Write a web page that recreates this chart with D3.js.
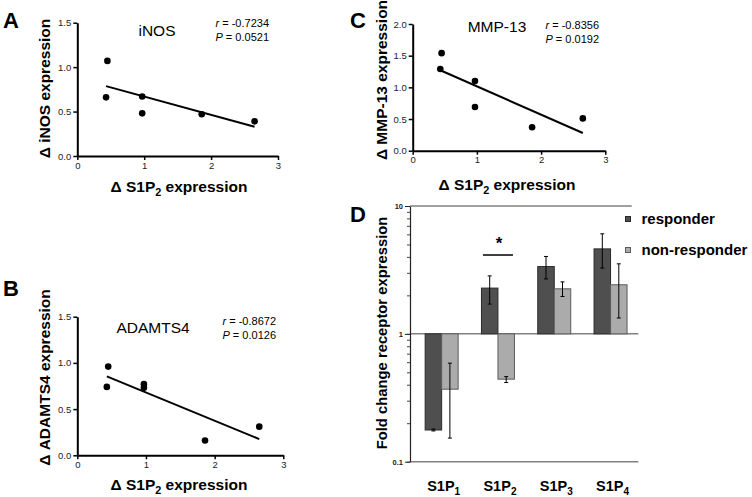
<!DOCTYPE html>
<html>
<head>
<meta charset="utf-8">
<script src="https://cdn.jsdelivr.net/npm/d3@7"></script>
<style>
  body { margin: 0; background: #fff; }
  svg { display: block; font-family: "Liberation Sans", Arial, sans-serif; }
</style>
</head>
<body>
<svg id="fig" width="752" height="497"></svg>
<script>
// change in S1P2 expression, one value per patient (same x for A, B, C)
const s1p2Delta = [0.43, 0.45, 0.97, 0.97, 1.86, 2.65]
const inosDelta = [0.66, 1.07, 0.67, 0.48, 0.47, 0.39]
const adamts4Delta = [0.74, 0.96, 0.77, 0.73, 0.16, 0.31]
const mmp13Delta = [1.29, 1.54, 1.10, 0.69, 0.37, 0.51]

const panelNames = ['iNOS', 'ADAMTS4', 'MMP-13']
const rValues = ['-0.7234', '-0.8672', '-0.8356']
const pValues = ['0.0521', '0.0126', '0.0192']

// panel D: fold change of S1P receptors
const receptors = ['1', '2', '3', '4']
const responder = [0.177, 2.28, 3.36, 4.62]
const responderLo = [0.174, 1.71, 2.69, 3.27]
const responderHi = [0.180, 2.84, 4.03, 6.06]
const nonResponder = [0.369, 0.442, 2.25, 2.42]
const nonResponderLo = [0.153, 0.416, 1.96, 1.33]
const nonResponderHi = [0.59, 0.463, 2.55, 3.53]
const seriesNames = ['responder', 'non-responder']

const svg = d3.select('#fig')

function fit(xs, ys) {
    const mx = d3.mean(xs), my = d3.mean(ys)
    let sxy = 0, sxx = 0
    xs.forEach((v, i) => {
        sxy += (v - mx) * (ys[i] - my)
        sxx += (v - mx) * (v - mx)
    })
    const slope = sxy / sxx
    return {slope: slope, icept: my - slope * mx}
}

function styleAxis(g) {
    g.select('.domain').attr('stroke', '#000').attr('stroke-width', 2)
    g.selectAll('.tick line').attr('stroke', '#000').attr('stroke-width', 1.5)
    g.selectAll('.tick text').attr('font-size', 9.5).attr('fill', '#222')
        .attr('font-family', '"Liberation Sans", Arial, sans-serif')
}

function s1p2Label(g, x, y, size) {
    const t = g.append('text')
        .attr('x', x).attr('y', y)
        .attr('text-anchor', 'middle')
        .attr('font-size', size).attr('font-weight', 'bold')
    t.append('tspan').text('\u0394 S1P')
    t.append('tspan').attr('font-size', size * 0.7).attr('dy', 4).text('2')
    t.append('tspan').attr('dy', -4).text(' expression')
}

function scatterPanel(o) {
    const g = svg.append('g')
    const x = d3.scaleLinear().domain([0, 3]).range([o.left, o.right])
    const y = d3.scaleLinear().domain([0, o.yMax]).range([o.bottom, o.top])

    g.append('g').attr('transform', `translate(0,${o.bottom})`)
        .call(d3.axisBottom(x).tickValues([0, 1, 2, 3]).tickFormat(d3.format('d'))
            .tickSize(4).tickSizeOuter(0).tickPadding(2))
        .call(styleAxis)
    g.append('g').attr('transform', `translate(${o.left},0)`)
        .call(d3.axisLeft(y).tickValues(d3.range(0, o.yMax + 0.01, 0.5)).tickFormat(d3.format('.1f'))
            .tickSize(4).tickSizeOuter(0).tickPadding(2))
        .call(styleAxis)

    const lf = fit(s1p2Delta, o.ys)
    const xe = d3.extent(s1p2Delta)
    g.append('line')
        .attr('x1', x(xe[0])).attr('y1', y(lf.slope * xe[0] + lf.icept))
        .attr('x2', x(xe[1])).attr('y2', y(lf.slope * xe[1] + lf.icept))
        .attr('stroke', '#000').attr('stroke-width', 2)

    g.selectAll('circle').data(o.ys).join('circle')
        .attr('cx', (d, i) => x(s1p2Delta[i]))
        .attr('cy', d => y(d))
        .attr('r', 3.3).attr('fill', '#000')

    g.append('text').attr('x', o.nameX).attr('y', o.nameY)
        .attr('text-anchor', 'middle').attr('font-size', 15.5).text(o.name)

    const st = g.append('text').attr('x', o.statX).attr('y', o.statY)
        .attr('text-anchor', 'end').attr('font-size', 11)
    st.append('tspan').attr('font-style', 'italic').text('r')
    st.append('tspan').text(' = ' + o.r)
    const sp = g.append('text').attr('x', o.statX).attr('y', o.statY + 14)
        .attr('text-anchor', 'end').attr('font-size', 11)
    sp.append('tspan').attr('font-style', 'italic').text('P')
    sp.append('tspan').text(' = ' + o.p)

    g.append('text')
        .attr('transform', `translate(${o.yTitleX},${o.yTitleY}) rotate(-90)`)
        .attr('text-anchor', 'middle').attr('font-size', 15.5).attr('font-weight', 'bold')
        .text(o.yTitle)
    s1p2Label(g, o.xTitleX, o.xTitleY, 15.5)

    g.append('text').attr('x', o.letterX).attr('y', o.letterY)
        .attr('font-size', 22).attr('font-weight', 'bold').text(o.letter)
}

scatterPanel({letter: 'A', letterX: 3, letterY: 28, ys: inosDelta, name: panelNames[0],
    r: rValues[0], p: pValues[0], yMax: 1.5,
    left: 77.3, right: 278, top: 22.7, bottom: 156,
    nameX: 157, nameY: 36, statX: 269, statY: 27,
    yTitle: '\u0394 iNOS expression', yTitleX: 50, yTitleY: 88.5,
    xTitleX: 179, xTitleY: 192})

scatterPanel({letter: 'B', letterX: 3, letterY: 296, ys: adamts4Delta, name: panelNames[1],
    r: rValues[1], p: pValues[1], yMax: 1.5,
    left: 77.3, right: 283.3, top: 316.7, bottom: 455.3,
    nameX: 153, nameY: 333, statX: 276, statY: 325,
    yTitle: '\u0394 ADAMTS4 expression', yTitleX: 50, yTitleY: 377.5,
    xTitleX: 179, xTitleY: 490})

scatterPanel({letter: 'C', letterX: 350, letterY: 28, ys: mmp13Delta, name: panelNames[2],
    r: rValues[2], p: pValues[2], yMax: 2,
    left: 412.7, right: 605.3, top: 24, bottom: 150.7,
    nameX: 497, nameY: 32, statX: 599, statY: 29,
    yTitle: '\u0394 MMP-13  expression', yTitleX: 387, yTitleY: 80,
    xTitleX: 507, xTitleY: 190})

// ---- panel D: bar chart on log scale ----
const gd = svg.append('g')
const xD = d3.scaleBand().domain(receptors).range([413.5, 638.7])
const yD = d3.scaleLog().domain([0.1, 10]).range([461.7, 206])
const barW = 16.5

// horizontal reference lines at 10, 1, 0.1
const refLines = [{v: 10, end: 631.7}, {v: 1, end: 638.3}, {v: 0.1, end: 638.3}]
gd.selectAll('line.ref').data(refLines).join('line')
    .attr('class', 'ref')
    .attr('x1', 410).attr('x2', d => d.end)
    .attr('y1', d => yD(d.v)).attr('y2', d => yD(d.v))
    .attr('stroke', '#808080').attr('stroke-width', 1.5)

const yMinor = gd.append('g').attr('transform', 'translate(410,0)')
    .call(d3.axisLeft(yD).tickValues(yD.ticks()).tickFormat('').tickSize(3).tickSizeOuter(0))
yMinor.select('.domain').attr('stroke', '#222').attr('stroke-width', 1.2)
yMinor.selectAll('.tick line').attr('stroke', '#444')

const yMajor = gd.append('g').attr('transform', 'translate(410,0)')
    .call(d3.axisLeft(yD).tickValues([0.1, 1, 10]).tickFormat(d3.format('~g')).tickSize(5).tickSizeOuter(0).tickPadding(2))
yMajor.select('.domain').remove()
yMajor.selectAll('.tick line').attr('stroke', '#222')
yMajor.selectAll('.tick text').attr('font-size', 7.5).attr('font-weight', 'bold').attr('fill', '#222')

const series = [
    {vals: responder, lo: responderLo, hi: responderHi, off: -barW, fill: '#4f4f4f', stroke: '#2b2b2b'},
    {vals: nonResponder, lo: nonResponderLo, hi: nonResponderHi, off: 0, fill: '#ababab', stroke: '#5c5c5c'}
]

series.forEach(s => {
    const cx = k => xD(k) + xD.bandwidth() / 2 + s.off
    gd.append('g').selectAll('rect').data(receptors).join('rect')
        .attr('x', k => cx(k))
        .attr('width', barW)
        .attr('y', (k, i) => Math.min(yD(1), yD(s.vals[i])))
        .attr('height', (k, i) => Math.abs(yD(s.vals[i]) - yD(1)))
        .attr('fill', s.fill).attr('stroke', s.stroke).attr('stroke-width', 1)
    const eb = gd.append('g').attr('stroke', '#000').attr('stroke-width', 1)
    receptors.forEach((k, i) => {
        const mx = cx(k) + barW / 2
        eb.append('line').attr('x1', mx).attr('x2', mx).attr('y1', yD(s.lo[i])).attr('y2', yD(s.hi[i]))
        eb.append('line').attr('x1', mx - 2).attr('x2', mx + 2).attr('y1', yD(s.lo[i])).attr('y2', yD(s.lo[i]))
        eb.append('line').attr('x1', mx - 2).attr('x2', mx + 2).attr('y1', yD(s.hi[i])).attr('y2', yD(s.hi[i]))
    })
})

// significance marker over S1P2
const sigX = xD('2') + xD.bandwidth() / 2
gd.append('line').attr('x1', sigX - 15).attr('x2', sigX + 15).attr('y1', 255).attr('y2', 255)
    .attr('stroke', '#000').attr('stroke-width', 1.5)
gd.append('text').attr('x', sigX + 1).attr('y', 249).attr('text-anchor', 'middle')
    .attr('font-size', 17).attr('font-weight', 'bold').text('*')

// category labels
receptors.forEach(k => {
    const t = gd.append('text').attr('x', xD(k) + xD.bandwidth() / 2 + 2).attr('y', 491)
        .attr('text-anchor', 'middle').attr('font-size', 14.5).attr('font-weight', 'bold')
    t.append('tspan').text('S1P')
    t.append('tspan').attr('font-size', 10).attr('dy', 4).text(k)
})

gd.append('text')
    .attr('transform', 'translate(387,333) rotate(-90)')
    .attr('text-anchor', 'middle').attr('font-size', 14.8).attr('font-weight', 'bold')
    .text('Fold change receptor expression')

gd.append('text').attr('x', 350).attr('y', 222)
    .attr('font-size', 22).attr('font-weight', 'bold').text('D')

// legend
seriesNames.forEach((n, i) => {
    const ly = 219 + i * 31
    gd.append('rect').attr('x', 625.5).attr('y', ly - 2.5).attr('width', 5).attr('height', 5)
        .attr('fill', series[i].fill).attr('stroke', series[i].stroke).attr('stroke-width', 1)
    gd.append('text').attr('x', 641.5).attr('y', ly + 4.5)
        .attr('font-size', 15).attr('font-weight', 'bold').text(n)
})
</script>
</body>
</html>
